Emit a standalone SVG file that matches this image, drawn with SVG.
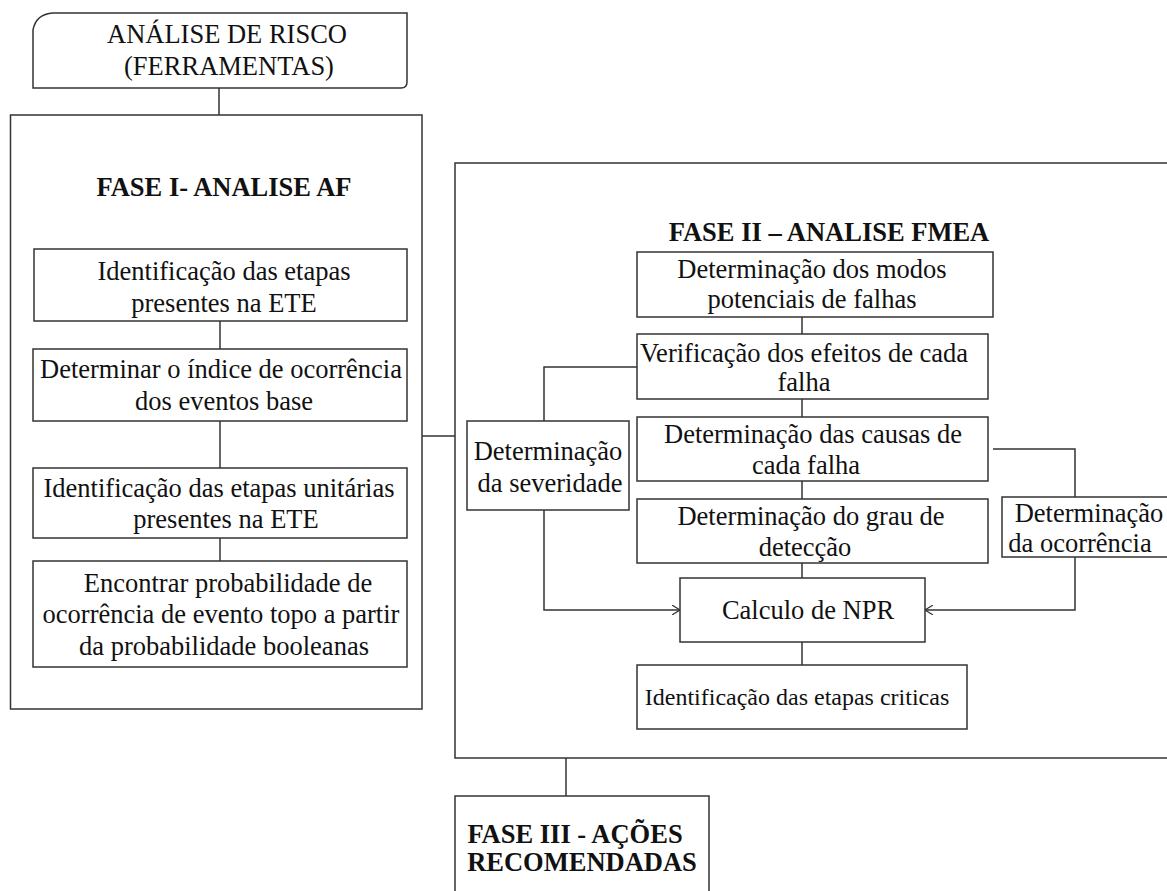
<svg xmlns="http://www.w3.org/2000/svg" width="1167" height="891" viewBox="0 0 1167 891">
  <style>
    .box { fill: #fff; stroke: #333; stroke-width: 1.5; }
    .line { fill: none; stroke: #333; stroke-width: 1.5; }
    text { font-family: "Liberation Serif", "Times New Roman", serif; font-size: 26.5px; fill: #111; text-anchor: middle; }
    .b { font-weight: bold; }
  </style>
  <defs>
    <marker id="chev" viewBox="0 0 8 10" refX="8" refY="5" markerWidth="8" markerHeight="10" markerUnits="userSpaceOnUse" orient="auto">
      <path d="M0,0 L8,5 L0,10" fill="none" stroke="#333" stroke-width="1.2"/>
    </marker>
  </defs>

  <rect width="1167" height="891" fill="#fff"/>

  <!-- outer phase containers -->
  <g id="fase1">
    <rect class="box" x="10.5" y="115" width="411.5" height="594"/>
    <text class="b" x="224" y="196">FASE I- ANALISE AF</text>
  </g>
  <g id="fase2">
    <rect class="box" x="455" y="163" width="720" height="595"/>
    <text class="b" x="829" y="241">FASE II –  ANALISE FMEA</text>
  </g>

  <!-- connectors -->
  <g id="connectors">
    <path class="line" d="M219,88 V115"/>
    <path class="line" d="M220,321 V349"/>
    <path class="line" d="M220,421 V468"/>
    <path class="line" d="M220,538 V561"/>
    <path class="line" d="M422,436 H455"/>
    <path class="line" d="M802,317 V334"/>
    <path class="line" d="M802,399 V417"/>
    <path class="line" d="M802,481 V499"/>
    <path class="line" d="M802,563 V578"/>
    <path class="line" d="M802,642 V665"/>
    <path class="line" d="M637,367 H544 V421"/>
    <path class="line" d="M544,510 V610 H680" marker-end="url(#chev)"/>
    <path class="line" d="M993,449 H1075 V497"/>
    <path class="line" d="M1075,557 V610 H925" marker-end="url(#chev)"/>
    <path class="line" d="M566,758 V796"/>
  </g>

  <!-- root node -->
  <g id="analise-risco">
    <path class="box" d="M53,13 H407 V82 Q407,88 401,88 H33 V30 Q36,14 53,13 Z"/>
    <text x="227" y="43">ANÁLISE DE RISCO</text>
    <text x="229" y="75">(FERRAMENTAS)</text>
  </g>

  <!-- phase I steps -->
  <g id="af-etapas">
    <rect class="box" x="34" y="249" width="373" height="72"/>
    <text x="224" y="280">Identificação das etapas</text>
    <text x="224" y="312">presentes na ETE</text>
  </g>
  <g id="af-indice">
    <rect class="box" x="33" y="349" width="374" height="72"/>
    <text x="221" y="378">Determinar o índice de ocorrência</text>
    <text x="224" y="410">dos eventos base</text>
  </g>
  <g id="af-unitarias">
    <rect class="box" x="33" y="468" width="374" height="70"/>
    <text x="219" y="497">Identificação das etapas unitárias</text>
    <text x="226" y="528">presentes na ETE</text>
  </g>
  <g id="af-probabilidade">
    <rect class="box" x="33" y="561" width="374" height="106"/>
    <text x="228" y="592">Encontrar probabilidade de</text>
    <text x="221" y="623">ocorrência de evento topo a partir</text>
    <text x="224" y="655">da probabilidade booleanas</text>
  </g>

  <!-- phase II steps -->
  <g id="fmea-modos">
    <rect class="box" x="637" y="252" width="356" height="65"/>
    <text x="812" y="278">Determinação dos modos</text>
    <text x="812" y="308">potenciais de falhas</text>
  </g>
  <g id="fmea-efeitos">
    <rect class="box" x="637" y="334" width="351" height="65"/>
    <text x="804" y="362">Verificação dos efeitos de cada</text>
    <text x="804" y="391">falha</text>
  </g>
  <g id="fmea-severidade">
    <rect class="box" x="467" y="421" width="162" height="89"/>
    <text x="548" y="460">Determinação</text>
    <text x="550" y="492">da severidade</text>
  </g>
  <g id="fmea-causas">
    <rect class="box" x="637" y="417" width="351" height="64"/>
    <text x="813" y="443">Determinação das causas de</text>
    <text x="806" y="474">cada falha</text>
  </g>
  <g id="fmea-deteccao">
    <rect class="box" x="637" y="499" width="351" height="64"/>
    <text x="811" y="525">Determinação do grau de</text>
    <text x="805" y="556">detecção</text>
  </g>
  <g id="fmea-ocorrencia">
    <rect class="box" x="1002" y="497" width="180" height="60"/>
    <text x="1089" y="522">Determinação</text>
    <text x="1080" y="552">da ocorrência</text>
  </g>
  <g id="fmea-npr">
    <rect class="box" x="680" y="578" width="245" height="64"/>
    <text x="808" y="619">Calculo de NPR</text>
  </g>
  <g id="fmea-criticas">
    <rect class="box" x="637" y="665" width="330" height="64"/>
    <text x="797" y="705" style="font-size:24px">Identificação das etapas criticas</text>
  </g>

  <!-- phase III -->
  <g id="fase3">
    <path class="box" d="M455,900 V796 H709 V900"/>
    <text class="b" x="575" y="843">FASE III - AÇÕES</text>
    <text class="b" x="582" y="871">RECOMENDADAS</text>
  </g>
</svg>
